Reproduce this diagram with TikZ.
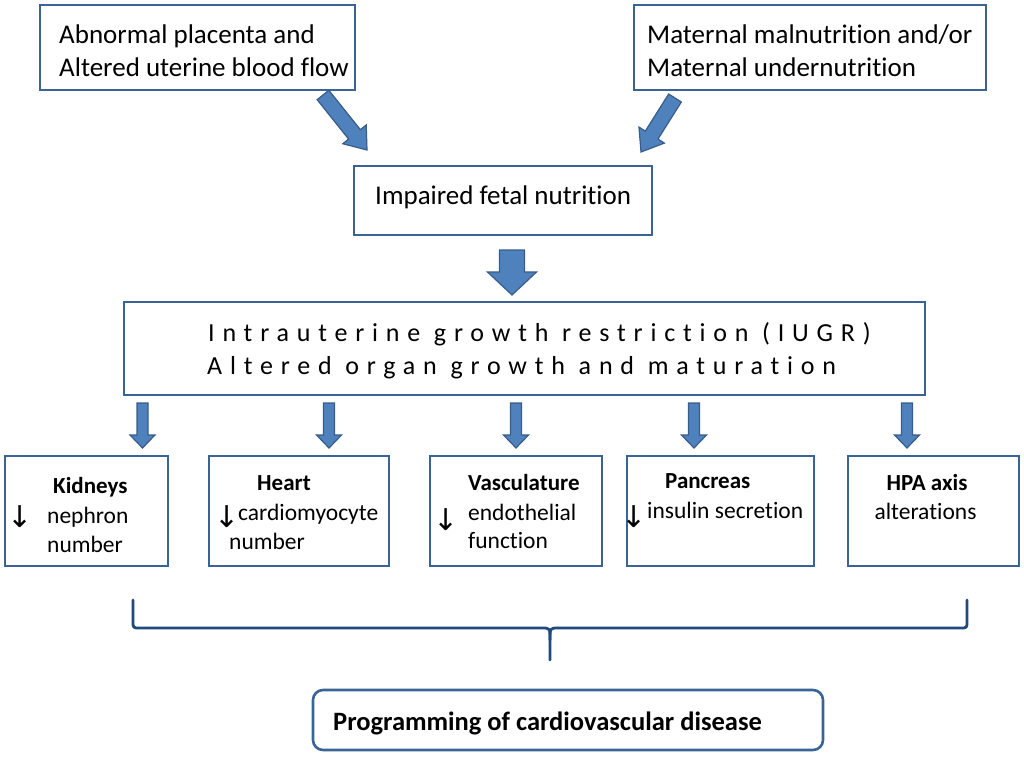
\documentclass[tikz,border=0pt]{standalone}
\usepackage{fontspec}
\setmainfont{Carlito}[Ligatures={NoCommon}]
\newfontfamily\arrowfont{DejaVu Sans}
\newfontfamily\spacedfont{Carlito}[LetterSpace=30,Ligatures={NoCommon}]
\usetikzlibrary{calc}
\definecolor{boxline}{HTML}{3A6497}
\definecolor{arrfill}{HTML}{4F81BD}
\definecolor{arrline}{HTML}{385D8A}
\definecolor{bracecol}{HTML}{1F4A7D}
\tikzset{
  boxstyle/.style={draw=boxline, line width=2.6pt, fill=white, inner sep=0pt},
  bigtxt/.style={anchor=base west, inner sep=0pt, font=\fontsize{27}{33}\selectfont},
  iugrtxt/.style={anchor=base west, inner sep=0pt, font=\spacedfont\fontsize{26}{33}\selectfont},
  orgtitle/.style={anchor=base west, inner sep=0pt, font=\bfseries\fontsize{23}{28}\selectfont},
  orgtxt/.style={anchor=base west, inner sep=0pt, font=\fontsize{23.5}{28}\selectfont},
  downsym/.style={anchor=center, inner sep=0pt, font=\arrowfont\fontsize{30}{34}\selectfont},
  progtxt/.style={anchor=base west, inner sep=0pt, font=\bfseries\fontsize{26.5}{32}\selectfont},
  barrow/.style={fill=arrfill, draw=arrline, line width=1.2pt, line join=miter},
  bracestyle/.style={draw=bracecol, line width=2.8pt, line cap=round, line join=round},
}
\newcommand\blkarrow[5]{%
  \coordinate (bah) at ($(#2)!#5!(#1)$);
  \filldraw[barrow] ($(#1)!#3!90:(#2)$) -- ($(bah)!#3!90:(#2)$) -- ($(bah)!#4!90:(#2)$) -- (#2)
     -- ($(bah)!#4!-90:(#2)$) -- ($(bah)!#3!-90:(#2)$) -- ($(#1)!#3!-90:(#2)$) -- cycle;}
\begin{document}
\begin{tikzpicture}[x=1pt,y=-1pt]
\useasboundingbox[fill=white] (0,0) rectangle (1024,759);

% boxes
\node[boxstyle, minimum width=315pt, minimum height=85pt] (b1) at (197.5,47.5) {};
\node[boxstyle, minimum width=352pt, minimum height=85pt] (b2) at (810,47.5) {};
\node[boxstyle, minimum width=298pt, minimum height=69pt] (imp) at (503,200.5) {};
\node[boxstyle, minimum width=801pt, minimum height=93pt] (iugr) at (524.5,348.5) {};
\node[boxstyle, minimum width=163pt, minimum height=110pt] (kid) at (86.5,511) {};
\node[boxstyle, minimum width=180pt, minimum height=110pt] (hrt) at (299,511) {};
\node[boxstyle, minimum width=172pt, minimum height=110pt] (vas) at (516,511) {};
\node[boxstyle, minimum width=187pt, minimum height=110pt] (pan) at (720.5,511) {};
\node[boxstyle, minimum width=171pt, minimum height=110pt] (hpa) at (933.5,511) {};
\node[boxstyle, rounded corners=10pt, minimum width=510pt, minimum height=60pt] (prog) at (568,720) {};

% texts
\node[bigtxt] (t1a) at (59,44) {Abnormal placenta and};
\node[bigtxt] (t1b) at (59,77) {Altered uterine blood flow};
\node[bigtxt] (t2a) at (647,44) {Maternal malnutrition and/or};
\node[bigtxt] (t2b) at (647,77) {Maternal undernutrition};
\node[bigtxt] (t3) at (375,205) {Impaired fetal nutrition};
\node[iugrtxt] (t4a) at (208,341) {Intrauterine growth restriction (IUGR)};
\node[iugrtxt] (t4b) at (207,374) {Altered organ growth and maturation};

\node[orgtitle] (k1) at (53,493) {Kidneys};
\node[downsym] (k2) at (20,517) {↓};
\node[orgtxt] (k3) at (47,523) {nephron};
\node[orgtxt] (k4) at (47,552) {number};

\node[orgtitle] (h1) at (257,490) {Heart};
\node[downsym] (h2) at (227,517) {↓};
\node[orgtxt] (h3) at (238,520) {cardiomyocyte};
\node[orgtxt] (h4) at (229,549) {number};

\node[orgtitle] (v1) at (468,490) {Vasculature};
\node[downsym] (v2) at (446,520) {↓};
\node[orgtxt] (v3) at (468,520) {endothelial};
\node[orgtxt] (v4) at (468,548) {function};

\node[orgtitle] (p1) at (665,488) {Pancreas};
\node[downsym] (p2) at (634,517) {↓};
\node[orgtxt] (p3) at (647,518) {insulin secretion};

\node[orgtitle, anchor=base] (x1) at (927,490) {HPA axis};
\node[orgtxt, anchor=base] (x2) at (925.5,519) {alterations};

\node[progtxt] (pt) at (333,730) {Programming of cardiovascular disease};

% block arrows
\coordinate (d1s) at (323,95);  \coordinate (d1e) at (367,150);
\coordinate (d2s) at (675,98);  \coordinate (d2e) at (641,152);
\blkarrow{d1s}{d1e}{7.5pt}{15pt}{20pt}
\blkarrow{d2s}{d2e}{7.5pt}{15pt}{20pt}
\coordinate (m1s) at (512,250); \coordinate (m1e) at (512,295);
\blkarrow{m1s}{m1e}{12.5pt}{24.5pt}{23pt}
\foreach \ax/\nm in {142.5/a1,329/a2,516/a3,694/a4,907/a5}{
  \coordinate (\nm s) at (\ax,403);
  \coordinate (\nm e) at (\ax,448);
}
\blkarrow{a1s}{a1e}{5.5pt}{12.5pt}{13pt}
\blkarrow{a2s}{a2e}{5.5pt}{12.5pt}{13pt}
\blkarrow{a3s}{a3e}{5.5pt}{12.5pt}{13pt}
\blkarrow{a4s}{a4e}{5.5pt}{12.5pt}{13pt}
\blkarrow{a5s}{a5e}{5.5pt}{12.5pt}{13pt}

% brace
\coordinate (brl) at (133,600);
\coordinate (brr) at (967,600);
\coordinate (brm) at (550,660);
\draw[bracestyle] (brl) -- (133,621) .. controls (133,628) .. (140,628) -- (542,628)
   .. controls (550,628) .. (550,640) -- (brm);
\draw[bracestyle] (brr) -- (967,621) .. controls (967,628) .. (960,628) -- (558,628)
   .. controls (550,628) .. (550,640);
\end{tikzpicture}
\end{document}
